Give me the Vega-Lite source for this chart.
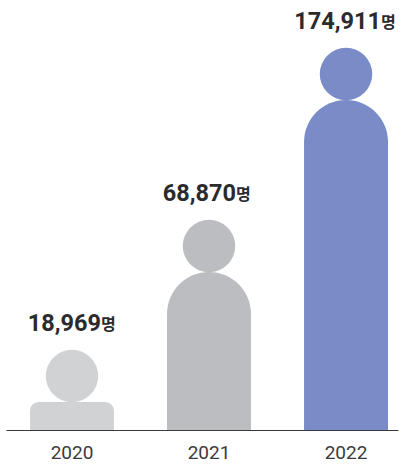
{
"$schema":"https://vega.github.io/schema/vega-lite/v6.json",
"width":392,"height":430,
"autosize":{"type":"none"},
"padding":{"left":6,"right":6,"top":0,"bottom":35},
"background":"white",
"config":{"view":{"stroke":null}},
"data":{"values":[
{"year":"2020","people":18969,"label":"18,969"},
{"year":"2021","people":68870,"label":"68,870"},
{"year":"2022","people":174911,"label":"174,911"}
]},
"encoding":{
"x":{"field":"year","type":"nominal","title":null,"sort":null,
"scale":{"type":"band","range":[0,392],"paddingInner":0.387,"paddingOuter":0.124,"align":0.706},
"axis":{"ticks":false,"labelAngle":0,"labelFont":"Roboto","labelFontSize":19,"labelColor":"#3a3a3c","labelPadding":13,"domainColor":"#3a3a3c","domainWidth":1.2,"grid":false}},
"y":{"field":"people","type":"quantitative","title":null,
"scale":{"domain":[0,18969,68870,174911],"range":[430,402,272,100],"clamp":false},
"axis":null},
"color":{"field":"year","type":"nominal","legend":null,"scale":{"domain":["2020","2021","2022"],"range":["#d1d2d4","#bcbdc0","#7a8cc7"]}}
},
"layer":[
{"transform":[{"filter":"datum.year=='2020'"}],"mark":{"type":"bar","cornerRadiusTopLeft":9,"cornerRadiusTopRight":9}},
{"transform":[{"filter":"datum.year!='2020'"}],"mark":{"type":"bar","cornerRadiusTopLeft":42,"cornerRadiusTopRight":42}},
{"mark":{"type":"point","filled":true,"opacity":1,"shape":"circle","size":2756,"yOffset":-26}},
{"transform":[{"filter":"datum.year=='2020'"}],"mark":{"type":"text","align":"right","baseline":"middle","dy":-78,"dx":29,"font":"Roboto","fontWeight":"bold","fontSize":23.5,"color":"#2b2b2d"},"encoding":{"text":{"field":"label"},"color":{"value":"#2b2b2d"}}},
{"transform":[{"filter":"datum.year=='2021'"}],"mark":{"type":"text","align":"right","baseline":"middle","dy":-78,"dx":27,"font":"Roboto","fontWeight":"bold","fontSize":23.5,"color":"#2b2b2d"},"encoding":{"text":{"field":"label"},"color":{"value":"#2b2b2d"}}},
{"transform":[{"filter":"datum.year=='2022'"}],"mark":{"type":"text","align":"right","baseline":"middle","dy":-78,"dx":35,"font":"Roboto","fontWeight":"bold","fontSize":23.5,"color":"#2b2b2d"},"encoding":{"text":{"field":"label"},"color":{"value":"#2b2b2d"}}},
{"transform":[{"filter":"datum.year=='2020'"}],"mark":{"type":"text","text":"명","align":"left","baseline":"middle","dy":-77,"dx":29,"font":"Noto Sans CJK KR","fontWeight":"bold","fontSize":16,"color":"#2b2b2d"},"encoding":{"color":{"value":"#2b2b2d"}}},
{"transform":[{"filter":"datum.year=='2021'"}],"mark":{"type":"text","text":"명","align":"left","baseline":"middle","dy":-77,"dx":27,"font":"Noto Sans CJK KR","fontWeight":"bold","fontSize":16,"color":"#2b2b2d"},"encoding":{"color":{"value":"#2b2b2d"}}},
{"transform":[{"filter":"datum.year=='2022'"}],"mark":{"type":"text","text":"명","align":"left","baseline":"middle","dy":-77,"dx":35,"font":"Noto Sans CJK KR","fontWeight":"bold","fontSize":16,"color":"#2b2b2d"},"encoding":{"color":{"value":"#2b2b2d"}}}
]
}
